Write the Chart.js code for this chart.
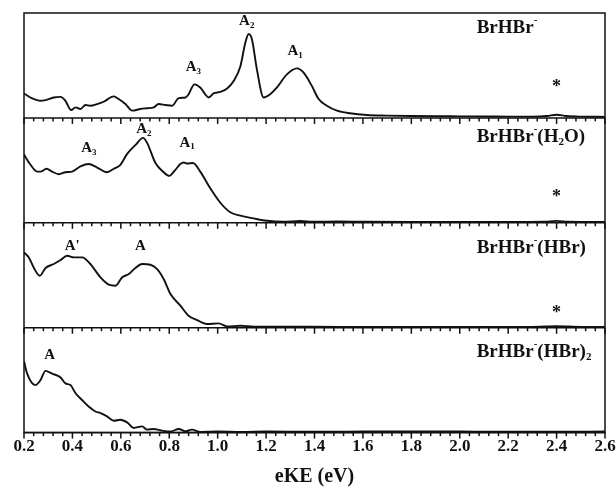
<!DOCTYPE html>
<html>
<head>
<meta charset="utf-8">
<script src="https://cdn.jsdelivr.net/npm/chart.js@4/dist/chart.umd.min.js"></script>
<style>
  html, body { margin: 0; padding: 0; background: #fff; }
</style>
</head>
<body>
<canvas id="grafico" width="616" height="489"></canvas>
<script>
// x values in eV, y values as fraction of each panel height
const eKE1 = [0.2, 0.234, 0.268, 0.289, 0.323, 0.351, 0.371, 0.395, 0.413, 0.433, 0.454, 0.474, 0.502, 0.529, 0.571, 0.591, 0.619, 0.647, 0.681, 0.708, 0.736, 0.756, 0.784, 0.812, 0.839, 0.867, 0.88, 0.904, 0.928, 0.963, 0.983, 1.011, 1.039, 1.066, 1.094, 1.114, 1.128, 1.142, 1.162, 1.19, 1.217, 1.245, 1.286, 1.328, 1.355, 1.389, 1.417, 1.451, 1.493, 1.547, 1.616, 1.699, 1.8, 1.9, 2.0, 2.1, 2.2, 2.3, 2.36, 2.4, 2.44, 2.5, 2.6];
const sig1 = [0.233, 0.186, 0.163, 0.17, 0.195, 0.2, 0.163, 0.075, 0.1, 0.085, 0.123, 0.116, 0.132, 0.154, 0.205, 0.18, 0.132, 0.069, 0.085, 0.092, 0.1, 0.132, 0.123, 0.116, 0.189, 0.195, 0.226, 0.32, 0.29, 0.195, 0.233, 0.248, 0.28, 0.352, 0.493, 0.714, 0.8, 0.745, 0.462, 0.195, 0.226, 0.29, 0.415, 0.472, 0.431, 0.305, 0.18, 0.116, 0.069, 0.044, 0.028, 0.022, 0.018, 0.016, 0.015, 0.014, 0.012, 0.012, 0.018, 0.03, 0.018, 0.012, 0.01];

const eKE2 = [0.2, 0.227, 0.254, 0.268, 0.293, 0.316, 0.344, 0.371, 0.399, 0.433, 0.467, 0.502, 0.543, 0.571, 0.598, 0.626, 0.66, 0.692, 0.708, 0.743, 0.777, 0.8, 0.825, 0.846, 0.86, 0.875, 0.898, 0.928, 0.97, 1.011, 1.052, 1.094, 1.148, 1.204, 1.272, 1.341, 1.396, 1.5, 1.6, 1.8, 2.0, 2.2, 2.35, 2.4, 2.45, 2.6];
const sig2 = [0.65, 0.553, 0.488, 0.488, 0.515, 0.488, 0.463, 0.482, 0.488, 0.537, 0.56, 0.527, 0.482, 0.515, 0.553, 0.657, 0.74, 0.81, 0.764, 0.57, 0.482, 0.447, 0.505, 0.56, 0.575, 0.565, 0.57, 0.488, 0.327, 0.191, 0.1, 0.068, 0.042, 0.019, 0.01, 0.017, 0.01, 0.012, 0.01, 0.008, 0.008, 0.008, 0.01, 0.018, 0.01, 0.008];

const eKE3 = [0.2, 0.22, 0.24, 0.265, 0.289, 0.323, 0.351, 0.378, 0.406, 0.44, 0.474, 0.516, 0.55, 0.578, 0.605, 0.633, 0.66, 0.688, 0.722, 0.75, 0.777, 0.805, 0.846, 0.88, 0.915, 0.956, 1.004, 1.039, 1.094, 1.15, 1.3, 1.5, 1.7, 1.9, 2.1, 2.3, 2.4, 2.5, 2.6];
const sig3 = [0.717, 0.67, 0.574, 0.495, 0.569, 0.607, 0.645, 0.686, 0.67, 0.67, 0.607, 0.479, 0.41, 0.4, 0.479, 0.511, 0.569, 0.607, 0.6, 0.559, 0.464, 0.321, 0.21, 0.114, 0.073, 0.035, 0.041, 0.012, 0.019, 0.01, 0.01, 0.008, 0.008, 0.008, 0.008, 0.008, 0.015, 0.008, 0.008];

const eKE4 = [0.2, 0.213, 0.247, 0.268, 0.289, 0.316, 0.351, 0.371, 0.392, 0.413, 0.44, 0.467, 0.495, 0.516, 0.543, 0.571, 0.598, 0.626, 0.653, 0.688, 0.708, 0.736, 0.763, 0.805, 0.839, 0.867, 0.894, 0.928, 1.0, 1.1, 1.2, 1.4, 1.6, 1.8, 2.0, 2.2, 2.4, 2.6];
const sig4 = [0.68, 0.563, 0.453, 0.5, 0.588, 0.563, 0.525, 0.469, 0.453, 0.375, 0.311, 0.248, 0.201, 0.186, 0.154, 0.113, 0.123, 0.097, 0.044, 0.059, 0.028, 0.035, 0.022, 0.01, 0.035, 0.012, 0.028, 0.007, 0.01, 0.006, 0.01, 0.008, 0.01, 0.012, 0.01, 0.008, 0.008, 0.01];

const xTicks = [0.2, 0.4, 0.6, 0.8, 1.0, 1.2, 1.4, 1.6, 1.8, 2.0, 2.2, 2.4, 2.6];

// panel names: [text, "n" | "sup" | "sub"]
const nombres = [
  [["BrHBr", "n"], ["-", "sup"]],
  [["BrHBr", "n"], ["-", "sup"], ["(H", "n"], ["2", "sub"], ["O)", "n"]],
  [["BrHBr", "n"], ["-", "sup"], ["(HBr)", "n"]],
  [["BrHBr", "n"], ["-", "sup"], ["(HBr)", "n"], ["2", "sub"]]
];
const nombreX = 2.07;
const nombreY = [0.86, 0.82, 0.76, 0.77];

// peak labels: panel, base letter, subscript, eV, height
const picos = [
  [0, "A", "3", 0.9, 0.48],
  [0, "A", "2", 1.12, 0.92],
  [0, "A", "1", 1.32, 0.635],
  [1, "A", "3", 0.468, 0.716],
  [1, "A", "2", 0.695, 0.893],
  [1, "A", "1", 0.874, 0.764],
  [2, "A'", "", 0.399, 0.781],
  [2, "A", "", 0.681, 0.781],
  [3, "A", "", 0.306, 0.736]
];
// asterisks at 2.4 eV
const asteriscoX = 2.4;
const asteriscoY = [0.32, 0.272, 0.162];

const ejes = ["y1", "y2", "y3", "y4"];
const series = [[eKE1, sig1], [eKE2, sig2], [eKE3, sig3], [eKE4, sig4]];

const SERIF = "'Liberation Serif', 'DejaVu Serif', serif";

function textoRico(ctx, partes, x, y, size, align) {
  const small = Math.round(size * 0.6);
  let total = 0;
  partes.forEach(p => {
    ctx.font = "bold " + (p[1] === "n" ? size : small) + "px " + SERIF;
    total += ctx.measureText(p[0]).width;
  });
  let cx = align === "center" ? x - total / 2 : x;
  partes.forEach(p => {
    ctx.font = "bold " + (p[1] === "n" ? size : small) + "px " + SERIF;
    let dy = 0;
    if (p[1] === "sup") dy = -size * 0.42;
    if (p[1] === "sub") dy = size * 0.3;
    ctx.fillText(p[0], cx, y + dy);
    cx += ctx.measureText(p[0]).width;
  });
}

const marco = {
  id: "marco",
  afterDraw(chart) {
    const ctx = chart.ctx, a = chart.chartArea, xs = chart.scales.x;
    ctx.save();
    ctx.strokeStyle = "#111";
    ctx.lineWidth = 1.5;
    ctx.strokeRect(a.left, a.top, a.right - a.left, a.bottom - a.top);
    ejes.forEach(id => {
      const yb = chart.scales[id].bottom;
      ctx.beginPath();
      ctx.moveTo(a.left, yb);
      ctx.lineTo(a.right, yb);
      ctx.stroke();
      for (let k = 0; k <= 60; k++) {
        const px = xs.getPixelForValue(0.2 + k * 0.04);
        const len = k % 5 === 0 ? 6 : 3.5;
        ctx.beginPath();
        ctx.moveTo(px, yb);
        ctx.lineTo(px, yb + len);
        ctx.stroke();
      }
    });

    ctx.fillStyle = "#111";
    ctx.textBaseline = "middle";
    nombres.forEach((partes, i) => {
      const ys = chart.scales[ejes[i]];
      textoRico(ctx, partes, xs.getPixelForValue(nombreX), ys.getPixelForValue(nombreY[i]), 19, "left");
    });
    picos.forEach(p => {
      const ys = chart.scales[ejes[p[0]]];
      const partes = [[p[1], "n"]];
      if (p[2]) partes.push([p[2], "sub"]);
      textoRico(ctx, partes, xs.getPixelForValue(p[3]), ys.getPixelForValue(p[4]), 15, "center");
    });
    asteriscoY.forEach((v, i) => {
      const ys = chart.scales[ejes[i]];
      ctx.font = "bold 18px " + SERIF;
      ctx.textAlign = "center";
      ctx.fillText("*", xs.getPixelForValue(asteriscoX), ys.getPixelForValue(v) + 3);
      ctx.textAlign = "left";
    });
    ctx.restore();
  }
};

const escalas = {
  x: {
    type: "linear", min: 0.2, max: 2.6,
    afterBuildTicks: s => { s.ticks = xTicks.map(v => ({ value: v })); },
    ticks: {
      callback: v => v.toFixed(1),
      font: { family: SERIF, size: 17, weight: "bold" },
      color: "#111", padding: 0, maxRotation: 0, autoSkip: false
    },
    grid: { display: false, drawTicks: true, tickLength: 4 },
    border: { display: false },
    title: {
      display: true, text: "eKE (eV)",
      font: { family: SERIF, size: 20, weight: "bold" },
      color: "#111", padding: { top: 8, bottom: 0 }
    }
  }
};
ejes.forEach((id, i) => {
  escalas[id] = {
    type: "linear", min: 0, max: 1, position: "left",
    stack: "paneles", stackWeight: 1, weight: 4 - i,
    ticks: { display: false }, grid: { display: false, drawTicks: false },
    border: { display: false },
    afterFit: s => { s.width = 0; }
  };
});

new Chart(document.getElementById("grafico"), {
  type: "line",
  data: {
    datasets: series.map((s, i) => ({
      data: s[0].map((x, j) => ({ x: x, y: s[1][j] })),
      yAxisID: ejes[i],
      borderColor: "#111",
      borderWidth: 1.9,
      pointRadius: 0,
      cubicInterpolationMode: "monotone",
      fill: false
    }))
  },
  options: {
    responsive: false,
    animation: false,
    devicePixelRatio: 1,
    layout: { padding: { left: 24, right: 11, top: 13, bottom: 0 } },
    plugins: { legend: { display: false }, tooltip: { enabled: false } },
    scales: escalas
  },
  plugins: [marco]
});
</script>
</body>
</html>
